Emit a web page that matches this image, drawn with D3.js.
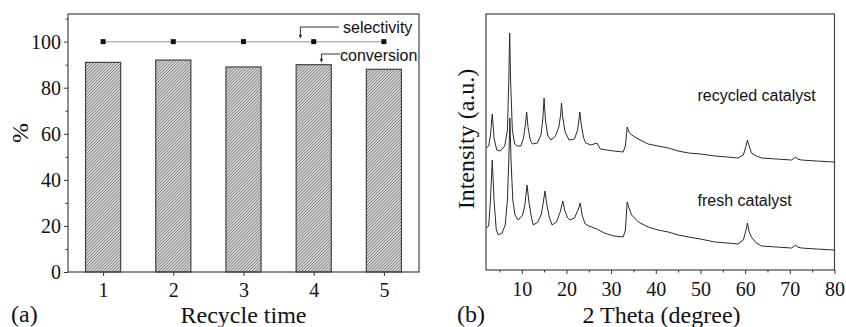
<!DOCTYPE html>
<html>
<head>
<meta charset="utf-8">
<script src="https://cdn.jsdelivr.net/npm/d3@7"></script>
<style>
  body { margin: 0; background: #fff; }
  svg { display: block; }
  .axis .tick text { font-family: "Liberation Serif", "Times New Roman", serif; font-size: 20px; fill: #111; }
  .axis .tick line { stroke: #333; stroke-width: 1; }
  .axis .domain { display: none; }
  .title { font-family: "Liberation Serif", "Times New Roman", serif; font-size: 24px; fill: #111; }
  .note { font-family: "Liberation Sans", Arial, sans-serif; font-size: 16px; fill: #111; }
</style>
</head>
<body>
<svg id="fig" width="846" height="327"></svg>
<script>
// ---- panel (a): recycle test ----
const cycles = [1, 2, 3, 4, 5];
const conversion = [91, 92, 89, 90, 88];
const selectivity = [100, 100, 100, 100, 100];
const yTicksA = [0, 20, 40, 60, 80, 100];
const yMinorA = [10, 30, 50, 70, 90, 110];

// ---- panel (b): XRD patterns, [2theta, intensity a.u.] ----
const recycled = [
  [2.0,122],[2.6,124],[3.0,135],[3.4,156],[3.8,132],[4.4,120],[5.2,119],[6.2,124],[6.8,140],
  [7.1,190],[7.3,237],[7.5,190],[7.9,140],[8.4,126],[9.0,124],[9.8,124],[10.4,132],[10.8,145],
  [11.1,158],[11.4,143],[11.9,130],[12.4,126],[13.5,127],[14.3,135],[14.7,150],[15.0,172],
  [15.3,150],[15.8,135],[16.5,130],[17.4,133],[17.8,137],[18.3,143],[18.7,155],[18.9,167],
  [19.2,152],[19.7,138],[20.6,130],[21.8,131],[22.5,140],[22.8,150],[23.0,158],[23.3,146],
  [23.8,133],[24.3,127],[25.5,125],[26.8,127],[27.6,121],[29.0,120],[30.6,119],[32.7,118],
  [33.2,124],[33.6,143],[34.0,138],[34.6,135],[36.1,131],[38.3,126],[40.5,124],[42.8,122],
  [45.0,119],[47.3,117],[50.0,116],[53.2,114],[56.0,113],[58.4,112],[59.6,115],[60.2,124],
  [60.5,130],[60.9,124],[61.4,117],[62.5,114],[63.7,112],[67.0,111],[70.4,110],[71.0,112],
  [71.3,113],[71.7,111],[72.6,110],[76.0,109],[79.9,108]
];
const fresh = [
  [2.0,42],[2.6,44],[3.0,70],[3.4,110],[3.8,70],[4.3,40],[4.8,35],[5.6,37],[6.3,45],[6.8,70],
  [7.1,110],[7.35,152],[7.6,110],[8.0,70],[8.5,55],[9.2,50],[10.2,55],[10.7,65],[11.2,85],
  [11.6,68],[12.2,52],[12.6,45],[13.6,48],[14.4,56],[14.9,70],[15.2,79],[15.6,66],[16.2,52],
  [16.8,45],[17.8,48],[18.6,58],[19.2,69],[19.6,60],[20.3,52],[20.8,50],[21.8,52],[22.6,60],
  [23.1,67],[23.5,55],[24.2,46],[25.0,44],[26.8,41],[28.5,37],[30.6,34],[32.7,33],[33.2,40],
  [33.6,68],[34.0,62],[34.6,55],[36.1,48],[38.3,43],[40.5,40],[42.8,38],[45.0,35],[47.3,33],
  [50.0,31],[53.2,28],[56.0,27],[58.4,26],[59.6,30],[60.2,40],[60.5,47],[60.9,38],[61.4,33],
  [62.5,27],[63.7,24],[67.0,23],[70.4,22],[71.0,24],[71.3,25],[71.7,23],[72.6,22],[76.0,21],
  [79.9,20]
];
const xTicksB = [10, 20, 30, 40, 50, 60, 70, 80];
const xMinorB = [5, 15, 25, 35, 45, 55, 65, 75];

const svg = d3.select('#fig');

// fine hatch for the bars
svg.append('defs').append('pattern')
  .attr('id', 'hatch')
  .attr('patternUnits', 'userSpaceOnUse')
  .attr('width', 2.2).attr('height', 2.2)
  .attr('patternTransform', 'rotate(45)')
  .call(p => {
    p.append('rect').attr('width', 2.2).attr('height', 2.2).attr('fill', '#e4e4e4');
    p.append('line').attr('x1', 0.5).attr('y1', 0).attr('x2', 0.5).attr('y2', 2.2)
      .attr('stroke', '#6a6a6a').attr('stroke-width', 0.8);
  });

// ===== panel (a) =====
const a = { left: 68, right: 419, top: 14, bottom: 272 };
const xA = d3.scaleLinear().domain([0.5, 5.5]).range([a.left, a.right]);
const yA = d3.scaleLinear().domain([0, 112]).range([a.bottom, a.top]);

svg.append('g').attr('class', 'axis')
  .attr('transform', `translate(0,${a.bottom})`)
  .call(d3.axisBottom(xA).tickValues(cycles).tickFormat(d3.format('d')).tickSize(4).tickPadding(7));

svg.append('g').attr('class', 'axis')
  .attr('transform', `translate(${a.left},0)`)
  .call(d3.axisLeft(yA).tickValues(yTicksA).tickSize(4).tickPadding(3));
svg.append('g').attr('class', 'axis')
  .attr('transform', `translate(${a.left},0)`)
  .call(d3.axisLeft(yA).tickValues(yMinorA).tickFormat('').tickSize(2.5));

svg.append('g').selectAll('rect')
  .data(cycles)
  .join('rect')
  .attr('x', (d, i) => xA(d - 0.25))
  .attr('y', (d, i) => yA(conversion[i]))
  .attr('width', (d, i) => xA(d + 0.25) - xA(d - 0.25))
  .attr('height', (d, i) => yA(0) - yA(conversion[i]))
  .attr('fill', 'url(#hatch)')
  .attr('stroke', '#444')
  .attr('stroke-width', 1.2);

svg.append('path')
  .datum(cycles)
  .attr('fill', 'none')
  .attr('stroke', '#b5b5b5')
  .attr('stroke-width', 1.5)
  .attr('d', d3.line().x(d => xA(d)).y((d, i) => yA(selectivity[i])));

svg.append('g').selectAll('rect')
  .data(cycles)
  .join('rect')
  .attr('x', d => xA(d) - 2.5)
  .attr('y', (d, i) => yA(selectivity[i]) - 2.5)
  .attr('width', 5).attr('height', 5)
  .attr('fill', '#111');

svg.append('rect')
  .attr('x', a.left).attr('y', a.top)
  .attr('width', a.right - a.left).attr('height', a.bottom - a.top)
  .attr('fill', 'none').attr('stroke', '#444').attr('stroke-width', 1.2);

// leader lines for the two series
function leader(tx, ty, hy, hx2, label, lx, ly) {
  const g = svg.append('g');
  g.append('path')
    .attr('d', `M${hx2},${hy}H${tx}V${ty - 3}`)
    .attr('fill', 'none').attr('stroke', '#333').attr('stroke-width', 1);
  g.append('path')
    .attr('d', `M${tx - 1.8},${ty - 4}L${tx + 1.8},${ty - 4}L${tx},${ty}Z`)
    .attr('fill', '#333');
  g.append('text').attr('class', 'note').attr('x', lx).attr('y', ly).text(label);
}
leader(xA(3.81), yA(100) - 3, 27, 339, 'selectivity', 343, 33);
leader(xA(4.11), yA(90) - 2, 54, 340, 'conversion', 340, 61);

svg.append('text').attr('class', 'title')
  .attr('transform', `translate(28,133) rotate(-90)`)
  .attr('text-anchor', 'middle').text('%');
svg.append('text').attr('class', 'title')
  .attr('x', 243.5).attr('y', 323).attr('text-anchor', 'middle').text('Recycle time');
svg.append('text').attr('class', 'title')
  .attr('x', 11).attr('y', 322).text('(a)');

// ===== panel (b) =====
const b = { left: 486, right: 834.5, top: 14, bottom: 270 };
const xB = d3.scaleLinear().domain([2, 80]).range([b.left, b.right]);
const yB = d3.scaleLinear().domain([0, 256]).range([b.bottom, b.top]);

svg.append('g').attr('class', 'axis')
  .attr('transform', `translate(0,${b.bottom})`)
  .call(d3.axisBottom(xB).tickValues(xTicksB).tickSize(4).tickPadding(8));
svg.append('g').attr('class', 'axis')
  .attr('transform', `translate(0,${b.bottom})`)
  .call(d3.axisBottom(xB).tickValues(xMinorB).tickFormat('').tickSize(2.5));

const lineB = d3.line().x(d => xB(d[0])).y(d => yB(d[1]));
[recycled, fresh].forEach(s => {
  svg.append('path')
    .datum(s)
    .attr('fill', 'none')
    .attr('stroke', '#2a2a2a')
    .attr('stroke-width', 1)
    .attr('stroke-linejoin', 'round')
    .attr('d', lineB);
});

svg.append('rect')
  .attr('x', b.left).attr('y', b.top)
  .attr('width', b.right - b.left).attr('height', b.bottom - b.top)
  .attr('fill', 'none').attr('stroke', '#444').attr('stroke-width', 1.2);

svg.append('text').attr('class', 'note').attr('x', 697.5).attr('y', 101).text('recycled catalyst');
svg.append('text').attr('class', 'note').attr('x', 697.5).attr('y', 206).text('fresh catalyst');

svg.append('text').attr('class', 'title')
  .attr('transform', `translate(474,139) rotate(-90)`)
  .attr('text-anchor', 'middle').text('Intensity (a.u.)');
svg.append('text').attr('class', 'title')
  .attr('x', 661.5).attr('y', 323).attr('text-anchor', 'middle').text('2 Theta (degree)');
svg.append('text').attr('class', 'title')
  .attr('x', 457).attr('y', 322).text('(b)');
</script>
</body>
</html>
